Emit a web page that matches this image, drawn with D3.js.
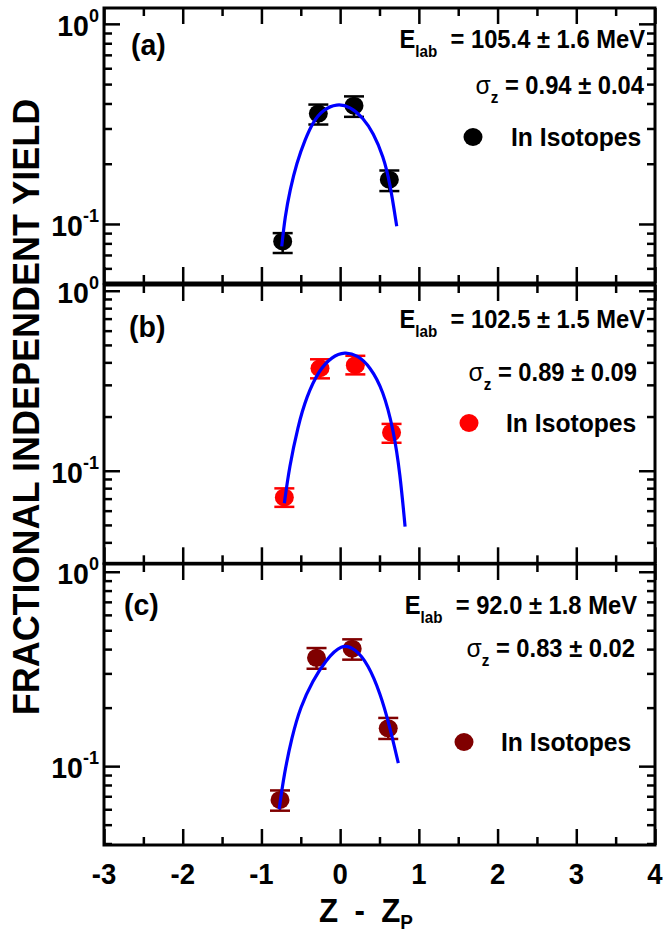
<!DOCTYPE html>
<html><head><meta charset="utf-8">
<script src="https://cdn.jsdelivr.net/npm/d3@7"></script>
<style>
body{margin:0;background:#fff}
svg{display:block}
text{font-family:Arial,"Liberation Sans",sans-serif;font-weight:bold;fill:#000}
</style>
</head><body><svg id="chart" width="663" height="937"></svg>
<script>
// ---------------- DATA ----------------
const xTickValues = [-3, -2, -1, 0, 1, 2, 3, 4];
const xMinorTickValues = [-2.5, -1.5, -0.5, 0.5, 1.5, 2.5, 3.5];
const panelLabels = ["(a)", "(b)", "(c)"];
const energyLabels = ["105.4 ± 1.6 MeV", "102.5 ± 1.5 MeV", "92.0 ± 1.8 MeV"];
const sigmaLabels = ["0.94 ± 0.04", "0.89 ± 0.09", "0.83 ± 0.02"];
const legendLabel = "In Isotopes";
const seriesColors = ["#000000", "#ff0000", "#800000"];
const yDomains = [[0.0507, 1.2], [0.0306, 1.076], [0.0393, 1.096]];

// measured points (Z - Zp, fractional yield) with error bar ends
const pointsXA = [-0.73, -0.277, 0.176, 0.625];
const pointsYA = [0.0818, 0.356, 0.390, 0.1665];
const errLowA  = [0.0716, 0.314, 0.343, 0.146];
const errHighA = [0.090, 0.395, 0.434, 0.185];

const pointsXB = [-0.709, -0.256, 0.193, 0.653];
const pointsYB = [0.0711, 0.371, 0.386, 0.163];
const errLowB  = [0.063, 0.326, 0.343, 0.143];
const errHighB = [0.0798, 0.416, 0.435, 0.182];

const pointsXC = [-0.764, -0.30, 0.153, 0.611];
const pointsYC = [0.067, 0.361, 0.402, 0.1565];
const errLowC  = [0.059, 0.317, 0.353, 0.138];
const errHighC = [0.075, 0.405, 0.449, 0.177];

// fitted curves
const curveXA = [-0.742, -0.700, -0.637, -0.552, -0.446, -0.341, -0.214, -0.044, 0.125, 0.294, 0.421, 0.548, 0.634, 0.719];
const curveYA = [0.0773, 0.109, 0.148, 0.202, 0.264, 0.326, 0.373, 0.399, 0.387, 0.339, 0.285, 0.218, 0.160, 0.0973];

const curveXB = [-0.709, -0.645, -0.537, -0.428, -0.267, -0.105, 0.058, 0.219, 0.382, 0.545, 0.679, 0.761, 0.825];
const curveYB = [0.0659, 0.105, 0.176, 0.258, 0.363, 0.430, 0.458, 0.439, 0.378, 0.281, 0.168, 0.0968, 0.0489];

const curveXC = [-0.775, -0.712, -0.614, -0.507, -0.346, -0.185, 0.019, 0.191, 0.353, 0.513, 0.621, 0.739];
const curveYC = [0.060, 0.091, 0.1406, 0.201, 0.276, 0.350, 0.427, 0.402, 0.336, 0.235, 0.165, 0.1036];

// ---------------- LAYOUT ----------------
const SX = 0.95;                // horizontal squeeze of the original figure's text
const plotLeft = 104, plotRight = 655;
const panelTops = [8, 285, 564];
const panelBottoms = [283, 563.3, 845];
const panelLabelPos = [[131, 55], [129, 337], [124, 615]];
const energyPos = [[645, 48], [645, 328], [637, 614]];
const sigmaPos = [[644, 94], [637, 381], [635, 657]];
const legendMarkerPos = [[473, 137], [469, 423], [464, 742]];
const legendTextPos = [[511, 146], [506, 432], [501, 751]];

const panels = [
  {px: pointsXA, py: pointsYA, lo: errLowA, hi: errHighA, cx: curveXA, cy: curveYA},
  {px: pointsXB, py: pointsYB, lo: errLowB, hi: errHighB, cx: curveXB, cy: curveYB},
  {px: pointsXC, py: pointsYC, lo: errLowC, hi: errHighC, cx: curveXC, cy: curveYC}
];

const svg = d3.select("#chart");
const x = d3.scaleLinear().domain([-3, 4]).range([plotLeft, plotRight]);

function stext(parent, tx, ty, anchor, size) {
  return parent.append("text")
    .attr("transform", `translate(${tx},${ty}) scale(${SX},1)`)
    .attr("text-anchor", anchor)
    .attr("font-size", size);
}

function styleAxis(g, w) {
  g.select(".domain").remove();
  g.selectAll(".tick line").attr("stroke", "#000").attr("stroke-width", w);
  g.selectAll(".tick text").remove();
}

panels.forEach((p, i) => {
  const top = panelTops[i], bottom = panelBottoms[i];
  const y = d3.scaleLog().domain(yDomains[i]).range([bottom, top]);
  const g = svg.append("g");
  const color = seriesColors[i];

  // ticks
  const [d0, d1] = yDomains[i];
  const allY = y.ticks().filter(v => v >= d0 && v <= d1);
  const majorY = allY.filter(v => Math.abs(Math.log10(v) - Math.round(Math.log10(v))) < 1e-9);
  const minorY = allY.filter(v => !majorY.includes(v));

  g.append("g").attr("transform", `translate(${plotLeft},0)`)
    .call(d3.axisLeft(y).tickValues(majorY).tickSize(-16)).call(a => styleAxis(a, 2.5));
  g.append("g").attr("transform", `translate(${plotLeft},0)`)
    .call(d3.axisLeft(y).tickValues(minorY).tickSize(-8)).call(a => styleAxis(a, 2.5));
  g.append("g").attr("transform", `translate(${plotRight},0)`)
    .call(d3.axisRight(y).tickValues(majorY).tickSize(-16)).call(a => styleAxis(a, 2.5));
  g.append("g").attr("transform", `translate(${plotRight},0)`)
    .call(d3.axisRight(y).tickValues(minorY).tickSize(-8)).call(a => styleAxis(a, 2.5));

  g.append("g").attr("transform", `translate(0,${bottom})`)
    .call(d3.axisBottom(x).tickValues(xTickValues).tickSize(-16)).call(a => styleAxis(a, 2.5));
  g.append("g").attr("transform", `translate(0,${bottom})`)
    .call(d3.axisBottom(x).tickValues(xMinorTickValues).tickSize(-8)).call(a => styleAxis(a, 2.5));
  g.append("g").attr("transform", `translate(0,${top})`)
    .call(d3.axisTop(x).tickValues(xTickValues).tickSize(-16)).call(a => styleAxis(a, 2.5));
  g.append("g").attr("transform", `translate(0,${top})`)
    .call(d3.axisTop(x).tickValues(xMinorTickValues).tickSize(-8)).call(a => styleAxis(a, 2.5));

  // frame
  g.append("rect").attr("x", plotLeft).attr("y", top)
    .attr("width", plotRight - plotLeft).attr("height", bottom - top)
    .attr("fill", "none").attr("stroke", "#000").attr("stroke-width", 3);

  // y tick labels 10^n
  majorY.forEach(v => {
    const t = stext(g, 99, y(v) + 12, "end", 30);
    t.append("tspan").text("10");
    t.append("tspan").attr("font-size", 19).attr("dy", -14).text(Math.round(Math.log10(v)));
  });

  // error bars
  const idx = d3.range(p.px.length);
  const eb = g.append("g").attr("stroke", color).attr("stroke-width", 2.5);
  idx.forEach(k => {
    const cxp = x(p.px[k]);
    eb.append("line").attr("x1", cxp).attr("x2", cxp).attr("y1", y(p.lo[k])).attr("y2", y(p.hi[k]));
    eb.append("line").attr("x1", cxp - 10).attr("x2", cxp + 10).attr("y1", y(p.lo[k])).attr("y2", y(p.lo[k]));
    eb.append("line").attr("x1", cxp - 10).attr("x2", cxp + 10).attr("y1", y(p.hi[k])).attr("y2", y(p.hi[k]));
  });
  // markers
  g.append("g").selectAll("ellipse").data(idx).join("ellipse")
    .attr("cx", k => x(p.px[k])).attr("cy", k => y(p.py[k]))
    .attr("rx", 9.5).attr("ry", 9).attr("fill", color);

  // fitted curve
  const cdata = p.cx.map((v, k) => [v, p.cy[k]]);
  g.append("path").datum(cdata)
    .attr("d", d3.line().x(d => x(d[0])).y(d => y(d[1])).curve(d3.curveBasis))
    .attr("fill", "none").attr("stroke", "#0000ff").attr("stroke-width", 3.2);

  // panel label
  stext(g, panelLabelPos[i][0], panelLabelPos[i][1], "start", 30).text(panelLabels[i]);

  // energy
  const te = stext(g, energyPos[i][0], energyPos[i][1], "end", 25);
  te.append("tspan").text("E");
  te.append("tspan").attr("font-size", 16).attr("dy", 9).text("lab");
  te.append("tspan").attr("dy", -9).text("\u00a0\u00a0= " + energyLabels[i]);

  // sigma
  const ts = stext(g, sigmaPos[i][0], sigmaPos[i][1], "end", 25);
  ts.append("tspan").attr("font-weight", "normal").attr("font-size", 26).text("σ");
  ts.append("tspan").attr("font-size", 16).attr("dy", 9).text("z");
  ts.append("tspan").attr("dy", -9).text("\u00a0= " + sigmaLabels[i]);

  // legend
  g.append("ellipse").attr("cx", legendMarkerPos[i][0]).attr("cy", legendMarkerPos[i][1])
    .attr("rx", 9.5).attr("ry", 9).attr("fill", color);
  stext(g, legendTextPos[i][0], legendTextPos[i][1], "start", 26).text(legendLabel);

  // x tick labels on bottom panel
  if (i === panels.length - 1) {
    xTickValues.forEach(v => {
      stext(g, x(v), bottom + 39, "middle", 29).text(v);
    });
  }
});

// axis titles
const xt = stext(svg, 319, 922, "start", 33).attr("word-spacing", 8);
xt.append("tspan").text("Z - Z");
xt.append("tspan").attr("font-size", 20).attr("dy", 7).text("P");

svg.append("text").attr("transform", "translate(39,407) rotate(-90)")
  .attr("text-anchor", "middle").attr("font-size", 36).text("FRACTIONAL INDEPENDENT YIELD");
</script>
</body></html>
